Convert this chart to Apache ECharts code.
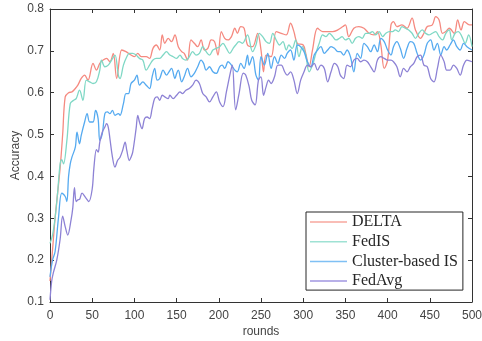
<!DOCTYPE html>
<html>
<head>
<meta charset="utf-8">
<script src="https://cdn.jsdelivr.net/npm/echarts@6/dist/echarts.min.js"></script>
<style>
html,body{margin:0;padding:0;background:#fff;}
#chart{width:482px;height:341px;}
</style>
</head>
<body>
<div id="chart"></div>
<script>
const seriesNames = ['DELTA', 'FedIS', 'Cluster-based IS', 'FedAvg'];

const deltaRounds = [0,2,4,6,9,12,15,18,22,26,30,33,37,41,45,51,55,59,63,67,71,75,79,85,90,96,100,104,108,114,118,122,126,130,133,136,140,144,148,152,156,159,163,167,171,175,179,183,187,191,195,199,203,207,211,215,219,222,226,230,234,240,246,250,253,256,262,268,274,280,285,289,293,300,303,307,311,317,323,329,335,341,347,350,354,360,366,372,378,384,388,392,396,400,404,407,411,417,423,429,433,439,443,447,453,457,461,465,469,473,479,483,487,491,497,500];
const deltaAcc = [0.15,0.2,0.25,0.3,0.36,0.42,0.5,0.59,0.6,0.602,0.61,0.618,0.634,0.642,0.63,0.67,0.654,0.67,0.678,0.682,0.674,0.694,0.634,0.702,0.698,0.69,0.686,0.694,0.686,0.686,0.682,0.706,0.714,0.702,0.738,0.718,0.73,0.722,0.738,0.71,0.698,0.694,0.678,0.726,0.718,0.71,0.726,0.702,0.706,0.726,0.722,0.69,0.746,0.73,0.726,0.734,0.754,0.742,0.758,0.754,0.714,0.71,0.742,0.702,0.65,0.69,0.686,0.746,0.742,0.738,0.766,0.746,0.718,0.714,0.694,0.662,0.702,0.754,0.746,0.746,0.746,0.75,0.758,0.762,0.734,0.754,0.758,0.754,0.742,0.738,0.746,0.714,0.658,0.678,0.762,0.77,0.758,0.762,0.754,0.778,0.75,0.73,0.742,0.758,0.762,0.782,0.774,0.742,0.746,0.754,0.742,0.774,0.75,0.77,0.762,0.762];

const fedisRounds = [0,3,6,9,12,14,16,20,24,28,31,35,39,43,47,51,55,59,61,65,69,73,77,81,83,87,91,94,98,102,106,110,114,118,122,126,130,134,138,142,146,150,154,157,161,165,169,173,177,181,185,189,193,197,201,205,209,213,217,220,224,228,234,240,244,248,252,256,260,264,268,272,276,280,283,287,291,295,299,303,307,311,315,319,323,327,331,335,339,343,346,350,354,358,362,366,370,374,378,382,386,390,394,398,402,406,409,413,417,421,425,429,433,437,441,445,449,453,457,461,465,469,473,476,480,484,488,492,496,500];
const fedisAcc = [0.24,0.26,0.3,0.36,0.43,0.44,0.43,0.486,0.574,0.582,0.586,0.606,0.582,0.63,0.626,0.622,0.626,0.654,0.678,0.662,0.666,0.678,0.69,0.642,0.634,0.666,0.686,0.694,0.694,0.69,0.682,0.678,0.654,0.666,0.678,0.682,0.682,0.69,0.698,0.69,0.686,0.682,0.69,0.682,0.678,0.686,0.698,0.69,0.694,0.71,0.698,0.69,0.702,0.706,0.71,0.718,0.706,0.694,0.706,0.714,0.722,0.718,0.738,0.698,0.714,0.742,0.734,0.722,0.718,0.742,0.726,0.714,0.722,0.702,0.714,0.706,0.726,0.686,0.71,0.69,0.65,0.666,0.694,0.718,0.738,0.734,0.742,0.734,0.726,0.73,0.734,0.726,0.73,0.718,0.73,0.734,0.73,0.742,0.742,0.746,0.738,0.746,0.734,0.742,0.746,0.746,0.75,0.746,0.758,0.754,0.75,0.742,0.73,0.742,0.75,0.742,0.738,0.742,0.746,0.734,0.726,0.742,0.75,0.726,0.742,0.746,0.734,0.718,0.738,0.71];

const clusterRounds = [0,3,6,10,14,18,20,22,24,26,30,32,35,37,41,44,47,51,54,57,59,62,65,68,71,74,77,81,83,87,90,93,96,100,103,106,110,114,118,121,124,127,130,134,138,141,144,148,150,152,156,159,163,167,171,175,179,182,185,189,193,197,201,204,207,211,215,219,222,226,230,234,236,240,244,247,250,254,258,262,266,270,274,278,281,285,289,293,297,301,305,309,313,317,321,325,329,333,337,341,344,348,352,356,360,364,368,372,376,380,384,388,392,396,400,404,407,411,415,419,423,427,431,435,439,443,447,451,455,459,463,467,470,474,478,482,486,490,494,500];
const clusterAcc = [0.16,0.2,0.22,0.3,0.36,0.352,0.34,0.4,0.43,0.446,0.47,0.506,0.478,0.498,0.53,0.55,0.53,0.53,0.558,0.538,0.486,0.502,0.55,0.554,0.55,0.558,0.546,0.55,0.546,0.574,0.598,0.598,0.622,0.63,0.642,0.618,0.626,0.618,0.61,0.638,0.658,0.63,0.634,0.654,0.642,0.65,0.658,0.634,0.646,0.654,0.626,0.638,0.658,0.638,0.646,0.662,0.678,0.67,0.654,0.662,0.65,0.646,0.662,0.666,0.658,0.674,0.666,0.654,0.65,0.67,0.658,0.69,0.666,0.686,0.642,0.63,0.686,0.666,0.694,0.658,0.686,0.67,0.69,0.682,0.694,0.702,0.678,0.714,0.71,0.698,0.674,0.662,0.69,0.702,0.71,0.694,0.702,0.71,0.706,0.698,0.698,0.69,0.702,0.686,0.65,0.694,0.682,0.718,0.71,0.698,0.714,0.698,0.73,0.722,0.702,0.69,0.71,0.722,0.706,0.682,0.706,0.722,0.718,0.694,0.678,0.69,0.718,0.726,0.702,0.718,0.69,0.71,0.702,0.714,0.726,0.71,0.702,0.718,0.71,0.702];

const avgRounds = [0,2,4,8,12,15,18,21,25,27,29,31,33,35,38,42,46,50,52,55,57,59,62,65,67,69,71,74,77,80,83,86,89,91,94,96,98,102,104,106,109,112,115,118,121,124,127,130,133,136,140,142,146,150,154,157,161,165,169,173,177,181,185,189,193,197,201,205,209,214,216,220,224,229,232,236,239,243,247,250,253,256,259,262,266,270,274,278,281,285,289,293,297,301,305,309,313,317,321,325,329,333,337,341,344,348,352,356,360,364,368,372,376,380,384,388,392,396,400,404,407,411,415,419,423,427,431,435,439,443,447,451,455,459,463,467,470,474,478,482,486,490,494,500];
const avgAcc = [0.105,0.15,0.17,0.2,0.25,0.305,0.28,0.26,0.297,0.325,0.373,0.34,0.344,0.345,0.36,0.35,0.34,0.37,0.42,0.464,0.458,0.482,0.506,0.518,0.526,0.518,0.49,0.446,0.422,0.438,0.446,0.462,0.482,0.462,0.438,0.446,0.458,0.514,0.546,0.53,0.514,0.538,0.542,0.538,0.562,0.586,0.59,0.582,0.594,0.59,0.586,0.594,0.586,0.594,0.602,0.598,0.606,0.61,0.618,0.63,0.622,0.598,0.59,0.578,0.59,0.602,0.578,0.567,0.602,0.651,0.666,0.559,0.598,0.647,0.642,0.614,0.582,0.571,0.63,0.638,0.594,0.614,0.63,0.622,0.638,0.666,0.666,0.65,0.642,0.65,0.63,0.598,0.63,0.65,0.666,0.662,0.67,0.654,0.666,0.658,0.626,0.65,0.67,0.662,0.642,0.634,0.666,0.662,0.678,0.682,0.674,0.678,0.674,0.662,0.65,0.678,0.686,0.682,0.678,0.678,0.674,0.662,0.638,0.658,0.65,0.662,0.67,0.686,0.69,0.666,0.662,0.634,0.626,0.658,0.69,0.674,0.654,0.654,0.666,0.658,0.642,0.666,0.678,0.674];

const xTicks = {min: 0, max: 500, interval: 50};
const yTicks = {min: 0.1, max: 0.8, interval: 0.1};

function zip(xs, ys) {
  const n = Math.min(xs.length, ys.length);
  const out = [];
  for (let i = 0; i < n; i++) out.push([xs[i], ys[i]]);
  return out;
}

const colors = ['#f58a80', '#7fd8c5', '#55aaf0', '#8d82d5'];
const legendColors = ['#f7a79e', '#9fe2d4', '#7fc0f4', '#a196e0'];
const axisColor = '#333333';
const labelColor = '#444444';

const chart = echarts.init(document.getElementById('chart'), null, {renderer: 'canvas'});

function lineSeries(i, xs, ys) {
  return {
    name: seriesNames[i], type: 'line', showSymbol: false, smooth: 0.35,
    data: zip(xs, ys),
    lineStyle: {width: 1.3, color: colors[i]},
    itemStyle: {color: legendColors[i]}
  };
}

const option = {
  animation: false,
  backgroundColor: '#ffffff',
  grid: {left: 50, right: 10, top: 9, bottom: 39, containLabel: false, outerBoundsMode: 'none'},
  xAxis: [{
    type: 'value', min: xTicks.min, max: xTicks.max, interval: xTicks.interval,
    axisLine: {show: true, lineStyle: {color: axisColor, width: 1}},
    axisTick: {show: true, inside: true, length: 4, lineStyle: {color: axisColor}},
    axisLabel: {color: labelColor, fontSize: 12, fontFamily: 'Liberation Sans, Arial', margin: 8},
    splitLine: {show: false},
    name: 'rounds', nameLocation: 'middle', nameGap: 24, nameMoveOverlap: false,
    nameTextStyle: {color: labelColor, fontSize: 12, fontFamily: 'Liberation Sans, Arial'}
  }, {
    type: 'value', position: 'top', min: xTicks.min, max: xTicks.max, interval: xTicks.interval,
    axisLine: {show: true, onZero: false, lineStyle: {color: axisColor, width: 1}},
    axisTick: {show: true, inside: true, length: 4, lineStyle: {color: axisColor}},
    axisLabel: {show: false}, splitLine: {show: false}
  }],
  yAxis: [{
    type: 'value', min: yTicks.min, max: yTicks.max, interval: yTicks.interval,
    axisLine: {show: true, lineStyle: {color: axisColor, width: 1}},
    axisTick: {show: true, inside: true, length: 4, lineStyle: {color: axisColor}},
    axisLabel: {color: labelColor, fontSize: 12, fontFamily: 'Liberation Sans, Arial', margin: 6,
      formatter: v => v.toFixed(1)},
    splitLine: {show: false},
    name: 'Accuracy', nameLocation: 'middle', nameGap: 28, nameMoveOverlap: false,
    nameTextStyle: {color: labelColor, fontSize: 12, fontFamily: 'Liberation Sans, Arial'}
  }, {
    type: 'value', position: 'right', min: yTicks.min, max: yTicks.max, interval: yTicks.interval,
    axisLine: {show: true, onZero: false, lineStyle: {color: axisColor, width: 1}},
    axisTick: {show: true, inside: true, length: 4, lineStyle: {color: axisColor}},
    axisLabel: {show: false}, splitLine: {show: false}
  }],
  legend: {
    orient: 'vertical', left: 306, top: 212,
    padding: [2, 5, 1, 4], itemGap: 3.7, itemWidth: 37, itemHeight: 1.5, icon: 'rect',
    backgroundColor: '#ffffff', borderColor: '#262626', borderWidth: 1, borderRadius: 0,
    textStyle: {fontFamily: 'Liberation Serif, Times New Roman', fontSize: 16, color: '#262626', lineHeight: 16},
    data: seriesNames
  },
  series: [
    lineSeries(0, deltaRounds, deltaAcc),
    lineSeries(1, fedisRounds, fedisAcc),
    lineSeries(2, clusterRounds, clusterAcc),
    lineSeries(3, avgRounds, avgAcc)
  ]
};
chart.setOption(option);
</script>
</body>
</html>
